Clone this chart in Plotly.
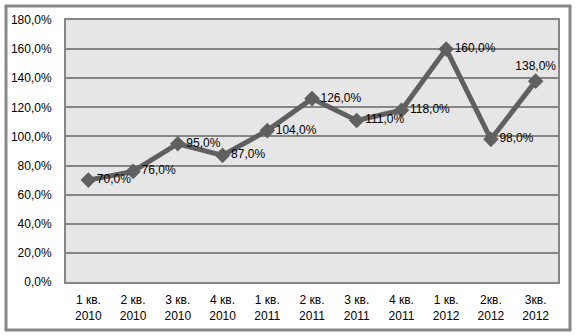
import plotly.graph_objects as go

categories = ["1 кв.<br>2010", "2 кв.<br>2010", "3 кв.<br>2010", "4 кв.<br>2010",
              "1 кв.<br>2011", "2 кв.<br>2011", "3 кв.<br>2011", "4 кв.<br>2011",
              "1 кв.<br>2012", "2кв.<br>2012", "3кв.<br>2012"]
values = [70, 76, 95, 87, 104, 126, 111, 118, 160, 98, 138]
labels = [f"{v:.1f}%".replace(".", ",") for v in values]
label_pos = ["middle right"] * 10 + ["top center"]
y_ticks = list(range(0, 181, 20))
y_tick_text = [f"{v:.1f}%".replace(".", ",") for v in y_ticks]

fig = go.Figure()
fig.add_trace(go.Scatter(
    x=categories, y=values, mode="lines+markers+text",
    text=labels, textposition=label_pos,
    textfont=dict(family="Liberation Sans, Arial", size=12, color="black"),
    line=dict(color="#606060", width=5),
    marker=dict(symbol="diamond", size=12, color="#606060"),
    cliponaxis=False, showlegend=False,
))

W, H = 576, 336
l, r, t, b = 66, 18, 20, 54
pw, ph = W - l - r, H - t - b
fig.add_shape(type="rect", xref="paper", yref="paper",
              x0=(6 - l) / pw, x1=(570 - l) / pw,
              y0=(H - b - 330) / ph, y1=(H - b - 6) / ph,
              line=dict(color="#888888", width=3), layer="below")

fig.update_layout(
    width=W, height=H,
    margin=dict(l=l, r=r, t=t, b=b),
    paper_bgcolor="white", plot_bgcolor="#e6e6e6",
    font=dict(family="Liberation Sans, Arial", size=12, color="black"),
    xaxis=dict(type="category", range=[-0.5, len(categories) - 0.5],
               showgrid=False, ticks="", showline=True,
               linecolor="#868686", linewidth=2, mirror=True,
               ticklabelstandoff=6, tickfont=dict(size=12)),
    yaxis=dict(range=[0, 180], tickvals=y_ticks, ticktext=y_tick_text,
               showgrid=True, gridcolor="#868686", gridwidth=2,
               showline=True, linecolor="#868686", linewidth=2, mirror=True,
               zeroline=False, ticks="", ticklabelstandoff=10,
               tickfont=dict(size=12)),
)

fig.write_html("out.html")
